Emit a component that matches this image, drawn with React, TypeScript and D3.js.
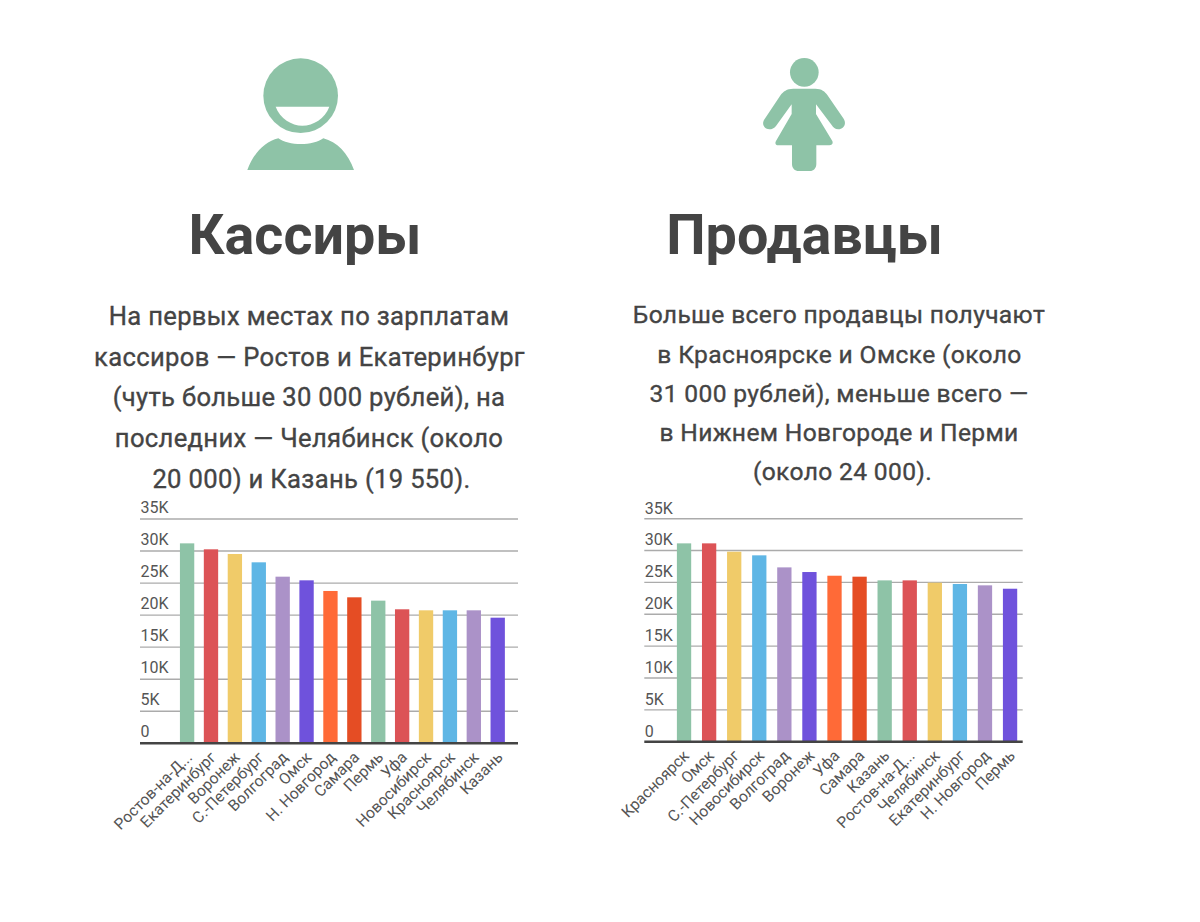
import React from "react";
import * as d3 from "d3";

const cashierCities = ["Ростов-на-Д...", "Екатеринбург", "Воронеж", "С.-Петербург", "Волгоград", "Омск", "Н. Новгород", "Самара", "Пермь", "Уфа", "Новосибирск", "Красноярск", "Челябинск", "Казань"];
const cashierValues = [31200, 30270, 29540, 28240, 26000, 25430, 23770, 22780, 22260, 20910, 20750, 20750, 20750, 19600];
const sellerCities = ["Красноярск", "Омск", "С.-Петербург", "Новосибирск", "Волгоград", "Воронеж", "Уфа", "Самара", "Казань", "Ростов-на-Д...", "Челябинск", "Екатеринбург", "Н. Новгород", "Пермь"];
const sellerValues = [31130, 31130, 29820, 29250, 27360, 26630, 26050, 25900, 25320, 25320, 24960, 24750, 24540, 24010];
const barColors = ["#8EC3A7", "#DC5356", "#F0CB69", "#5FB6E5", "#AB92C8", "#6F52DC", "#FF6A37", "#E54D24"];
const cashierColors = [...barColors, "#8EC3A7", "#DC5356", "#F0CB69", "#5FB6E5", "#AB92C8", "#6F52DC"];
const sellerColors = [...barColors, "#8EC3A7", "#DC5356", "#F0CB69", "#5FB6E5", "#AB92C8", "#6F52DC"];
const yTicks = [0, 5000, 10000, 15000, 20000, 25000, 30000, 35000];
const cashierText = ["На первых местах по зарплатам", "кассиров — Ростов и Екатеринбург", "(чуть больше 30 000 рублей), на", "последних — Челябинск (около", "20 000) и Казань (19 550)."];
const sellerText = ["Больше всего продавцы получают", "в Красноярске и Омске (около", "31 000 рублей), меньше всего —", "в Нижнем Новгороде и Перми", "(около 24 000)."];

const FONT = "Roboto, sans-serif";

function fmt(v: number) {
  return v === 0 ? "0" : `${v / 1000}K`;
}

function Chart(props: {
  cities: string[]; values: number[]; colors: string[];
  gridLeft: number; gridRight: number; top: number; bottom: number;
  bandLeft: number; bandRight: number; inner: number; outer: number; labelUp: number;
}) {
  const { cities, values, colors, gridLeft, gridRight, top, bottom, bandLeft, bandRight, inner, outer, labelUp } = props;
  const y = d3.scaleLinear().domain([0, 35000]).range([bottom, top]);
  const x = d3.scaleBand<string>().domain(cities).range([bandLeft, bandRight]).paddingInner(inner).paddingOuter(outer);
  return (
    <g fontFamily={FONT}>
      {yTicks.filter((t) => t > 0).map((t) => (
        <line key={t} x1={gridLeft} x2={gridRight} y1={y(t)} y2={y(t)} stroke="#ABABAB" strokeWidth={1.4} />
      ))}
      {yTicks.map((t) => (
        <text key={t} x={gridLeft + 0.5} y={y(t) - labelUp} fontSize={16} fill="#555">{fmt(t)}</text>
      ))}
      {cities.map((c, i) => (
        <rect key={c} x={x(c)} y={y(values[i])} width={x.bandwidth()} height={bottom - y(values[i])} fill={colors[i]} />
      ))}
      <line x1={gridLeft} x2={gridRight} y1={bottom} y2={bottom} stroke="#444" strokeWidth={2.4} />
      {cities.map((c) => {
        const cx = (x(c) as number) + x.bandwidth() / 2 + 6;
        const cy = bottom + 15;
        return (
          <text key={c} x={cx} y={cy} fontSize={15.7} fill="#555" textAnchor="end" transform={`rotate(-45 ${cx} ${cy})`}>{c}</text>
        );
      })}
    </g>
  );
}

function Para(props: { lines: string[]; cx: number; ys: number[]; shift: number[]; size: number; spacing: number }) {
  return (
    <g fontFamily={FONT} fontSize={props.size} fontWeight={400} fill="#444" stroke="#444" strokeWidth={0.35} textAnchor="middle">
      {props.lines.map((l, i) => (
        <text key={l} x={props.cx + props.shift[i]} y={props.ys[i]} letterSpacing={props.spacing}>{l}</text>
      ))}
    </g>
  );
}

export default function App() {
  return (
    <svg width={1200} height={922} style={{ position: "absolute", left: 0, top: 0, background: "#fff" }}>
      <g transform="translate(230,40) scale(0.3333)" fill="#8EC3A7">
        <circle cx={212} cy={167} r={112} />
        <path d="M137 200 L298 200 C285 235 250 257 217 257 C185 257 150 235 137 200 Z" fill="#fff" />
        <path d="M52 390 C70 340 105 305 145 295 C175 318 250 318 280 295 C320 305 355 340 372 390 Z" />
      </g>
      <g transform="translate(740,40) scale(0.3333)" fill="#8EC3A7">
        <circle cx={193} cy={97} r={43} />
        <path d="M160 146 L226 146 C245 146 255 155 262 165 L310 235 C322 252 310 268 295 268 C285 268 280 262 275 255 L228 193 L228 222 L277 303 C280 310 276 316 268 316 L229 316 L229 372 C229 385 220 393 210 393 L176 393 C165 393 156 385 156 372 L156 316 L115 316 C107 316 104 310 108 303 L155 222 L155 193 L108 258 C103 265 95 268 88 268 C73 268 63 252 74 237 L122 165 C130 155 140 146 160 146 Z" />
      </g>
      <text x={305} y={254} textAnchor="middle" fontFamily={FONT} fontWeight={700} fontSize={55.7} fill="#444">Кассиры</text>
      <text x={804.5} y={254} textAnchor="middle" fontFamily={FONT} fontWeight={700} fontSize={55.7} fill="#444">Продавцы</text>
      <Para lines={cashierText} cx={309} ys={[324.5, 365.5, 405.5, 446.5, 487.5]} shift={[0, 0.5, 0, 0, 2.5]} size={25.6} spacing={0.33} />
      <Para lines={sellerText} cx={839} ys={[322.5, 362.5, 401.5, 440.5, 479.5]} shift={[0, 0.5, 0, 0, 3.5]} size={24.6} spacing={0.35} />
      <Chart cities={cashierCities} values={cashierValues} colors={cashierColors} gridLeft={140} gridRight={518} top={519} bottom={743.3} bandLeft={175.15} bandRight={509.65} inner={0.4} outer={0.2} labelUp={6.2} />
      <Chart cities={sellerCities} values={sellerValues} colors={sellerColors} gridLeft={644.3} gridRight={1022.7} top={518.7} bottom={741.7} bandLeft={671.5} bandRight={1022.6} inner={0.43} outer={0.215} labelUp={5.2} />
    </svg>
  );
}
